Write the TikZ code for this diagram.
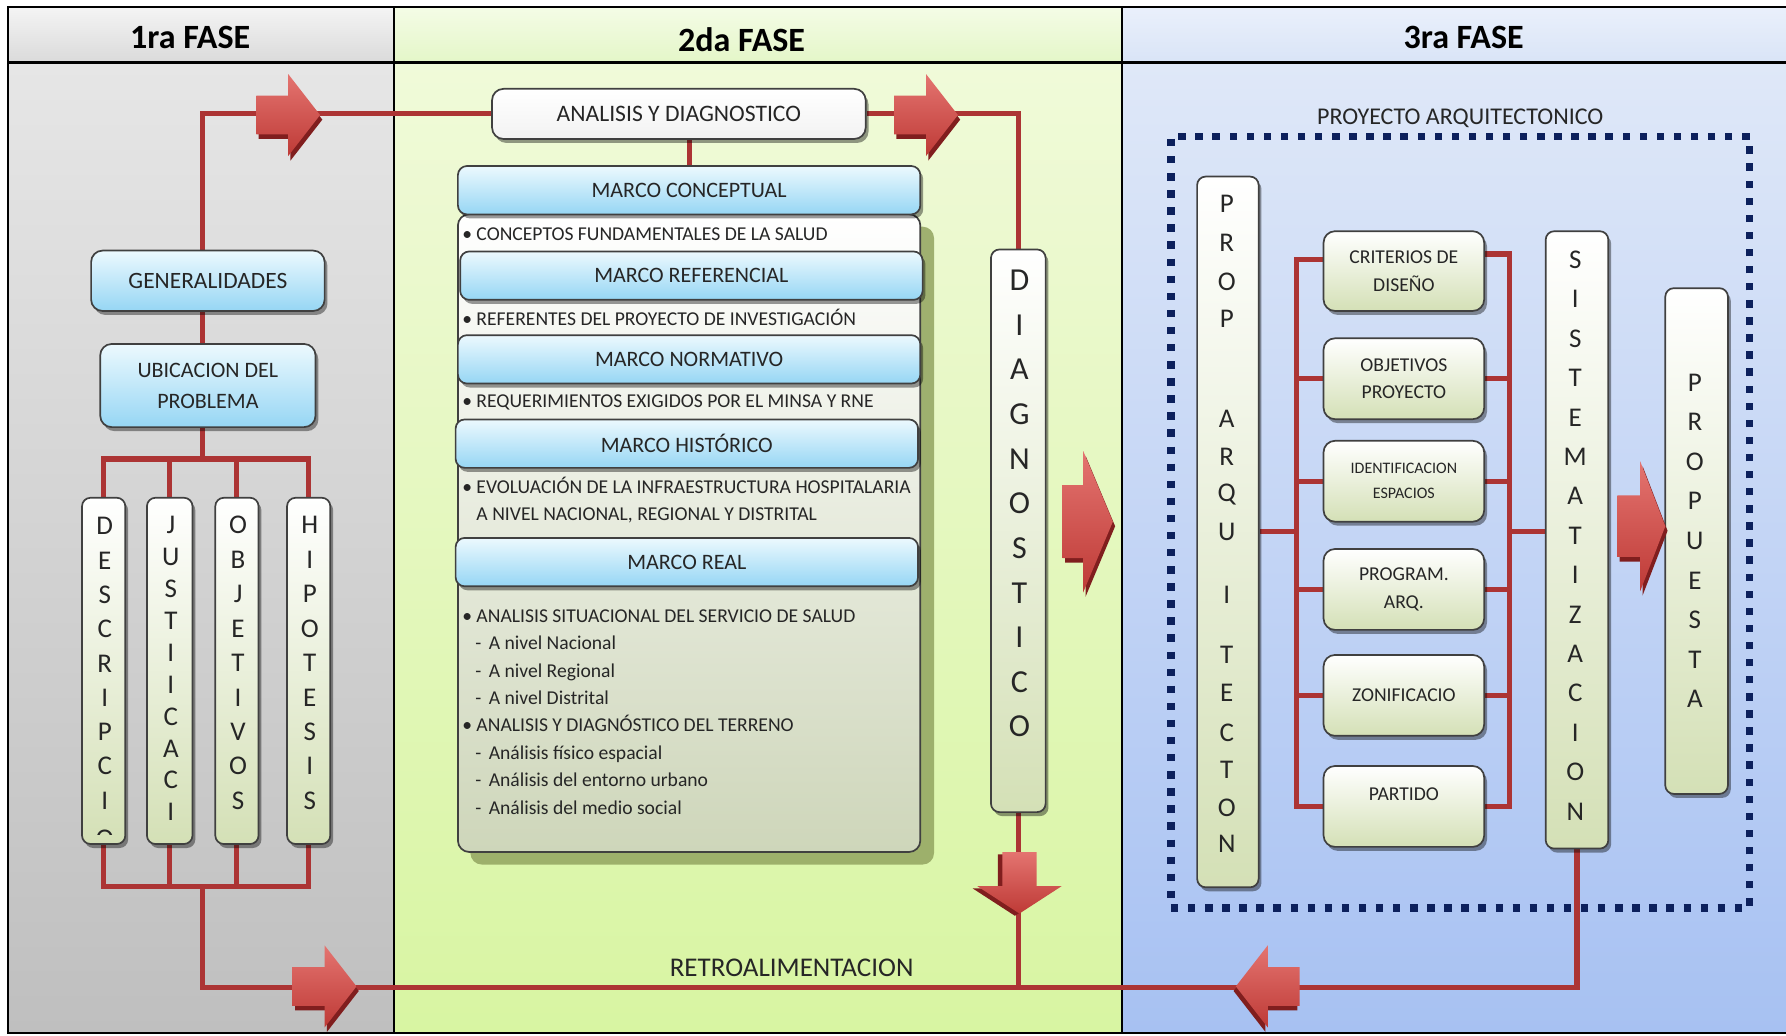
\documentclass[tikz,border=0pt]{standalone}
\usepackage{fontspec}
\setmainfont{Carlito}
\usetikzlibrary{positioning,fit,shadows}

\definecolor{wirered}{RGB}{172,52,52}
\definecolor{arrtop}{RGB}{228,116,112}
\definecolor{arrbot}{RGB}{190,58,54}
\definecolor{arrdark}{RGB}{128,30,30}
\definecolor{cyantop}{RGB}{236,249,254}
\definecolor{cyanbot}{RGB}{150,214,244}
\definecolor{olivelt}{RGB}{212,224,182}
\definecolor{olivesh}{RGB}{146,164,96}
\definecolor{contbot}{RGB}{206,214,186}
\definecolor{dotnavy}{RGB}{12,32,92}
\definecolor{hdronet}{RGB}{244,244,244}
\definecolor{hdroneb}{RGB}{218,218,218}
\definecolor{panonet}{RGB}{230,230,230}
\definecolor{panoneb}{RGB}{191,191,191}
\definecolor{hdrtwot}{RGB}{244,252,230}
\definecolor{hdrtwob}{RGB}{228,246,200}
\definecolor{pantwot}{RGB}{240,250,217}
\definecolor{pantwob}{RGB}{216,245,162}
\definecolor{hdrthrt}{RGB}{234,240,251}
\definecolor{hdrthrb}{RGB}{217,228,247}
\definecolor{panthrt}{RGB}{223,232,248}
\definecolor{panthrb}{RGB}{167,193,242}

\pgfdeclarelayer{back}
\pgfdeclarelayer{wires}
\pgfsetlayers{back,wires,main}

\begin{document}
\begin{tikzpicture}[x=0.2mm, y=-0.2mm,
	every node/.style={text=black!85},
	wire/.style={draw=wirered, line width=0.9mm},
	boxshadow/.style={drop shadow={shadow xshift=0.5mm, shadow yshift=-0.7mm, opacity=0.4, fill=black}},
	cyanbox/.style={draw=black!75, line width=0.3mm, rounded corners=2mm, top color=cyantop, bottom color=cyanbot, inner sep=0pt, align=center, boxshadow},
	basegreen/.style={draw=black!75, line width=0.3mm, rounded corners=2mm, top color=white, bottom color=olivelt, inner sep=0pt, align=center, font=\fontsize{9.8}{13.7}\selectfont},
	greenbox/.style={basegreen, boxshadow},
	critbox/.style={greenbox, minimum width=28.2mm, minimum height=14.2mm},
	vbox/.style={greenbox, rounded corners=1.5mm},
	vlet/.style={inner sep=0pt, font=\fontsize{13.5}{13.5}\selectfont},
	bigvlet/.style={inner sep=0pt, font=\fontsize{16}{16}\selectfont},
	marco/.style={cyanbox, rounded corners=1.6mm, minimum width=81.2mm, minimum height=8.5mm, font=\fontsize{11}{13}\selectfont},
	listtxt/.style={anchor=west, inner xsep=0.5mm, inner ysep=0pt, align=left, font=\fontsize{9.8}{13.7}\selectfont},
	phase/.style={text=black, font=\fontsize{17}{17}\selectfont\bfseries},
	dotframe/.style={draw=dotnavy, line width=1.3mm, dash pattern=on 1.3mm off 1.7mm, inner sep=0pt},
	pics/redarrow/.style n args={4}{code={
		\fill[arrdark, shift={(2,4)}] (0,-#3) -- ({#1-#2},-#3) -- ({#1-#2},-#4) -- (#1,0) -- ({#1-#2},#4) -- ({#1-#2},#3) -- (0,#3) -- cycle;
		\shade[top color=arrtop, bottom color=arrbot] (0,-#3) -- ({#1-#2},-#3) -- ({#1-#2},-#4) -- (#1,0) -- ({#1-#2},#4) -- ({#1-#2},#3) -- (0,#3) -- cycle;
	}}
]
	\useasboundingbox (0,0) rectangle (1568,909);

	\begin{pgfonlayer}{back}
		\shade[top color=panonet, bottom color=panoneb] (7,55) rectangle (346,907);
		\shade[top color=pantwot, bottom color=pantwob] (346,55) rectangle (985,907);
		\shade[top color=panthrt, bottom color=panthrb] (985,55) rectangle (1575,907);
		\shade[top color=hdronet, bottom color=hdroneb] (7,6) rectangle (346,55);
		\shade[top color=hdrtwot, bottom color=hdrtwob] (346,6) rectangle (985,55);
		\shade[top color=hdrthrt, bottom color=hdrthrb] (985,6) rectangle (1575,55);
		\draw[line width=0.45mm] (7,6) rectangle (1575,907);
		\draw[line width=0.45mm] (7,55) -- (1575,55) (346,6) -- (346,907) (985,6) -- (985,907);
	\end{pgfonlayer}

	\node[phase] (fase1) at (167,33) {1ra FASE};
	\node[phase] (fase2) at (651,35) {2da FASE};
	\node[phase] (fase3) at (1285,33) {3ra FASE};

	\coordinate (spine) at (178,0);
	\coordinate (topbus) at (178,403);
	\coordinate (botbus) at (178,778);
	\coordinate (retroline) at (0,867);
	\coordinate (lbus) at (1138,0);
	\coordinate (rbus) at (1325,0);

	\node[cyanbox, minimum width=41mm, minimum height=10.6mm, font=\fontsize{11.7}{14}\selectfont] (gen) at (182.5,246.5) {GENERALIDADES};
	\node[cyanbox, minimum width=37.8mm, minimum height=14.6mm, font=\fontsize{11}{15.4}\selectfont] (ubic) at (182.5,338.5) {UBICACION DEL\\PROBLEMA};
	\node[vbox, fit={(72,437) (110,741)}] (desc) {};
	\node[vbox, fit={(129,437) (169,741)}] (jus) {};
	\node[vbox, fit={(189,437) (227,741)}] (obj) {};
	\node[vbox, fit={(252,437) (290,741)}] (hip) {};
	\foreach \l [count=\i from 0] in {D,E,S,C,R,I,P,C,I}
		\node[vlet] (desc-\i) at (92,{462+30.1*\i}) {\l};
	\begin{scope}
		\clip (72,437) rectangle (110,733);
		\node[vlet] (desc-9) at (92,736) {O};
	\end{scope}
	\foreach \l [count=\i from 0] in {J,U,S,T,I,I,C,A,C,I}
		\node[vlet] (jus-\i) at (150,{461+28*\i}) {\l};
	\foreach \l [count=\i from 0] in {O,B,J,E,T,I,V,O,S}
		\node[vlet] (obj-\i) at (209,{461+30.25*\i}) {\l};
	\foreach \l [count=\i from 0] in {H,I,P,O,T,E,S,I,S}
		\node[vlet] (hip-\i) at (272,{461+30.25*\i}) {\l};

	\fill[olivesh, opacity=0.85, rounded corners=2mm] (413,199) rectangle (820,759);
	\node[basegreen, bottom color=contbot, fit={(402,188) (808,748)}] (cont) {};
	\node[cyanbox, top color=white, bottom color=gray!10, minimum width=65.6mm, minimum height=8.8mm, font=\fontsize{11.8}{14}\selectfont] (anal) at (596,100) {ANALISIS Y DIAGNOSTICO};
	\node[marco] (mcon) at (605,167) {MARCO CONCEPTUAL};
	\node[marco] (mref) at (607,242) {MARCO REFERENCIAL};
	\node[marco] (mnor) at (605,315.5) {MARCO NORMATIVO};
	\node[marco] (mhis) at (603,389.5) {MARCO HISTÓRICO};
	\node[marco] (mrea) at (603,493.5) {MARCO REAL};
	\node[listtxt] (cpt) at (403,206) {\textbullet\ CONCEPTOS FUNDAMENTALES DE LA SALUD};
	\node[listtxt] (ref) at (403,279) {\textbullet\ REFERENTES DEL PROYECTO DE INVESTIGACIÓN};
	\node[listtxt] (req) at (403,353) {\textbullet\ REQUERIMIENTOS EXIGIDOS POR EL MINSA Y RNE};
	\node[listtxt] (evo) at (403,439) {\textbullet\ EVOLUACIÓN DE LA INFRAESTRUCTURA HOSPITALARIA\\\hphantom{\textbullet\ }A NIVEL NACIONAL, REGIONAL Y DISTRITAL};
	\node[listtxt] (real) at (403,625) {\textbullet\ ANALISIS SITUACIONAL DEL SERVICIO DE SALUD\\
		\hspace*{2.3mm}-\hspace{1.3mm}A nivel Nacional\\
		\hspace*{2.3mm}-\hspace{1.3mm}A nivel Regional\\
		\hspace*{2.3mm}-\hspace{1.3mm}A nivel Distrital\\
		\textbullet\ ANALISIS Y DIAGNÓSTICO DEL TERRENO\\
		\hspace*{2.3mm}-\hspace{1.3mm}Análisis físico espacial\\
		\hspace*{2.3mm}-\hspace{1.3mm}Análisis del entorno urbano\\
		\hspace*{2.3mm}-\hspace{1.3mm}Análisis del medio social};

	\node[vbox, fit={(870,219) (918,713)}] (diag) {};
	\foreach \l [count=\i from 0] in {D,I,A,G,N,O,S,T,I,C,O}
		\node[bigvlet] (diag-\i) at (895,{246+39.2*\i}) {\l};
	\node[font=\fontsize{13.5}{15}\selectfont] (retro) at (695,850) {RETROALIMENTACION};

	\node[dotframe, fit={(1028,120) (1536,797)}] (proy) {};
	\node[font=\fontsize{12}{14}\selectfont] (proylbl) at (1282,104) {PROYECTO ARQUITECTONICO};
	\node[vbox, fit={(1051,155) (1105,779)}] (prop) {};
	\foreach \l/\y [count=\i] in {P/179,R/213,O/247,P/280,A/368,R/401,Q/434,U/467,I/522,T/575,E/608,C/643,T/676,O/709,N/741}
		\node[vlet] (prop-\i) at (1077,\y) {\l};
	\node[critbox, minimum height=14mm] (crit) at (1232.5,238) {CRITERIOS DE\\DISEÑO};
	\node[critbox] (objp) at (1232.5,332.5) {OBJETIVOS\\PROYECTO};
	\node[critbox, font=\fontsize{8}{12.5}\selectfont] (iden) at (1232.5,422.5) {IDENTIFICACION\\ESPACIOS};
	\node[critbox] (prog) at (1232.5,517.5) {PROGRAM.\\ARQ.};
	\node[critbox, text depth=-1mm] (zoni) at (1232.5,610.5) {ZONIFICACIO};
	\node[critbox, text depth=4.3mm] (part) at (1232.5,708) {PARTIDO};
	\node[vbox, fit={(1357,203) (1412,745)}] (sist) {};
	\foreach \l [count=\i from 0] in {S,I,S,T,E,M,A,T,I,Z,A,C,I,O,N}
		\node[vlet] (sist-\i) at (1383,{228+34.6*\i}) {\l};
	\node[vbox, fit={(1462,253) (1517,697)}] (prpt) {};
	\foreach \l [count=\i from 0] in {P,R,O,P,U,E,S,T,A}
		\node[vlet] (prpt-\i) at (1488,{336+34.7*\i}) {\l};

	\begin{pgfonlayer}{wires}
		\draw[wire] (spine |- gen.north) |- (anal.west);
		\draw[wire] (spine |- gen.south) -- (spine |- ubic.north);
		\draw[wire] (spine |- ubic.south) -- (topbus);
		\draw[wire] (desc.north) |- (topbus) -| (hip.north);
		\draw[wire] (jus.north) -- (jus.north |- topbus);
		\draw[wire] (obj.north) -- (obj.north |- topbus);
		\draw[wire] (desc.south) |- (botbus) -| (hip.south);
		\draw[wire] (jus.south) -- (jus.south |- botbus);
		\draw[wire] (obj.south) -- (obj.south |- botbus);
		\draw[wire] (botbus) |- (sist.south |- retroline) -- (sist.south);
		\draw[wire] (anal.east) -| (diag.north);
		\draw[wire] (mcon.north) -- (mcon.north |- anal.south);
		\draw[wire] (diag.south) -- (diag.south |- retroline);
		\draw[wire] ([yshift=2mm]crit.west) -| (lbus |- part.west) -- (part.west);
		\foreach \b in {objp,iden,prog,zoni}
			\draw[wire] (\b.west) -- (\b.west -| lbus);
		\draw[wire] (prop.east) -- (prop.east -| lbus);
		\draw[wire] ([yshift=3mm]crit.east) -| (rbus |- part.east) -- (part.east);
		\foreach \b in {objp,iden,prog,zoni}
			\draw[wire] (\b.east) -- (\b.east -| rbus);
		\draw[wire] (rbus |- prop.east) -- (sist.west |- prop.east);
	\end{pgfonlayer}

	\pic at (225,101) {redarrow={56}{28}{17}{36}};
	\pic at (785,101) {redarrow={56}{28}{17}{36}};
	\pic at (933,458) {redarrow={44}{26}{32}{62}};
	\pic[rotate=-90] at (895,748) {redarrow={54}{24}{15}{37}};
	\pic at (257,866) {redarrow={56}{28}{17}{36}};
	\pic[xscale=-1] at (1141,866) {redarrow={56}{28}{17}{36}};
	\pic at (1420,462) {redarrow={42}{22}{27}{57}};
\end{tikzpicture}
\end{document}
